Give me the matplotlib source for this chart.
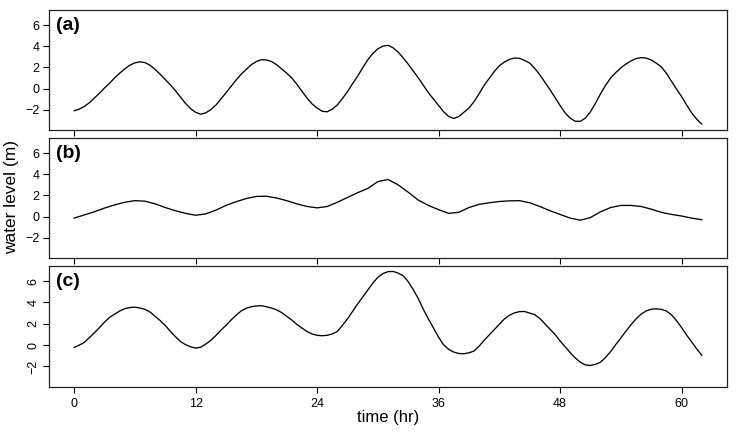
import numpy as np
import matplotlib
matplotlib.use('Agg')
import matplotlib.pyplot as plt

plt.rcParams['font.family'] = ['Liberation Sans', 'DejaVu Sans']

# water levels (m)
hours_half = np.arange(0, 62.5, 0.5)   # panels (a) and (c), every half hour
hours = np.arange(0, 63, 1)            # panel (b), hourly

level_a = [-2.1, -1.95, -1.7, -1.35, -0.9, -0.45, 0.05, 0.5, 1.0, 1.45,
           1.85, 2.2, 2.42, 2.52, 2.45, 2.2, 1.8, 1.35, 0.85, 0.35,
           -0.2, -0.8, -1.4, -1.9, -2.25, -2.43, -2.3, -2.0, -1.57, -1.0,
           -0.4, 0.2, 0.8, 1.35, 1.8, 2.25, 2.55, 2.72, 2.7, 2.55,
           2.25, 1.85, 1.45, 1.0, 0.4, -0.25, -0.9, -1.45, -1.85, -2.15,
           -2.2, -1.95, -1.55, -0.95, -0.3, 0.45, 1.15, 1.95, 2.7, 3.3,
           3.75, 4.0, 4.08, 3.85, 3.45, 2.9, 2.3, 1.65, 1.0, 0.3,
           -0.4, -1.0, -1.6, -2.2, -2.65, -2.83, -2.65, -2.25, -1.85, -1.25,
           -0.5, 0.3, 0.95, 1.6, 2.15, 2.5, 2.75, 2.88, 2.85, 2.65,
           2.4, 1.9, 1.3, 0.6, -0.1, -0.85, -1.6, -2.3, -2.8, -3.1,
           -3.1, -2.8, -2.2, -1.4, -0.5, 0.3, 1.0, 1.5, 1.95, 2.3,
           2.6, 2.82, 2.92, 2.88, 2.7, 2.4, 2.05, 1.45, 0.7, -0.05,
           -0.75, -1.55, -2.3, -2.9, -3.35]

level_b = [-0.15, 0.15, 0.45, 0.8, 1.1, 1.35, 1.5, 1.45, 1.2, 0.85,
           0.55, 0.3, 0.12, 0.25, 0.6, 1.05, 1.4, 1.7, 1.9, 1.92,
           1.75, 1.5, 1.2, 0.95, 0.82, 0.95, 1.35, 1.8, 2.25, 2.65,
           3.3, 3.5, 3.0, 2.3, 1.55, 1.05, 0.65, 0.3, 0.4, 0.85,
           1.15, 1.3, 1.42, 1.48, 1.5, 1.3, 0.95, 0.55, 0.2, -0.15,
           -0.35, -0.1, 0.45, 0.85, 1.05, 1.05, 0.95, 0.7, 0.4, 0.2,
           0.05, -0.15, -0.3]

level_c = [-0.22, 0.0, 0.25, 0.7, 1.15, 1.65, 2.15, 2.6, 2.9, 3.2,
           3.42, 3.52, 3.56, 3.48, 3.35, 3.1, 2.7, 2.3, 1.85, 1.3,
           0.8, 0.34, 0.05, -0.15, -0.28, -0.2, 0.1, 0.45, 0.9, 1.4,
           1.85, 2.35, 2.8, 3.2, 3.45, 3.6, 3.67, 3.69, 3.6, 3.47,
           3.31, 3.05, 2.7, 2.35, 1.95, 1.6, 1.28, 1.05, 0.92, 0.88,
           0.92, 1.05, 1.28, 1.85, 2.45, 3.15, 3.85, 4.5, 5.15, 5.8,
           6.35, 6.7, 6.88, 6.9, 6.75, 6.5, 5.95, 5.2, 4.35, 3.35,
           2.45, 1.6, 0.75, 0.03, -0.4, -0.65, -0.78, -0.81, -0.72, -0.55,
           -0.1, 0.45, 0.95, 1.45, 1.95, 2.45, 2.8, 3.02, 3.14, 3.15,
           3.0, 2.85, 2.5, 2.0, 1.5, 1.0, 0.4, -0.15, -0.7, -1.2,
           -1.6, -1.85, -1.9, -1.8, -1.6, -1.15, -0.6, 0.05, 0.66, 1.3,
           1.9, 2.45, 2.9, 3.2, 3.36, 3.4, 3.35, 3.2, 2.85, 2.3,
           1.65, 0.95, 0.3, -0.35, -0.95]

panel_labels = ['(a)', '(b)', '(c)']
x_ticks = [0, 12, 24, 36, 48, 60]
y_ticks = [-2, 0, 2, 4, 6]

fig = plt.figure(figsize=(7.36, 4.34), dpi=100)

# panel boxes in figure fractions (left, bottom, width, height)
boxes = [[0.0666, 0.7005, 0.921, 0.2765],
         [0.0666, 0.4055, 0.921, 0.2765],
         [0.0666, 0.1083, 0.921, 0.2790]]

xs = [hours_half, hours, hours_half]
series = [level_a, level_b, level_c]

for i in range(3):
    ax = fig.add_axes(boxes[i])
    ax.plot(xs[i], series[i], color='black', linewidth=0.95)
    ax.set_xlim(-2.48, 64.48)
    ax.set_ylim(-3.92, 7.42)
    ax.set_xticks(x_ticks)
    ax.set_yticks(y_ticks)
    ax.tick_params(direction='out', length=4, width=0.8, labelsize=9,
                   colors='black')
    ax.tick_params(axis='y', pad=3)
    ax.tick_params(axis='x', pad=4)
    for s in ax.spines.values():
        s.set_linewidth(0.9)
        s.set_color('#222222')
    ax.text(0.011, 0.94, panel_labels[i], transform=ax.transAxes,
            fontsize=14, fontweight='bold', va='top', ha='left')
    if i < 2:
        ax.set_xticklabels([])
    else:
        ax.set_xticklabels([str(t) for t in x_ticks])
        plt.setp(ax.get_yticklabels(), rotation=90, va='center')
        ax.set_xlabel('time (hr)', fontsize=12, labelpad=0)

fig.text(0.016, 0.545, 'water level (m)', rotation=90, fontsize=12.5,
         ha='center', va='center')

fig.savefig('out.png', dpi=100)
